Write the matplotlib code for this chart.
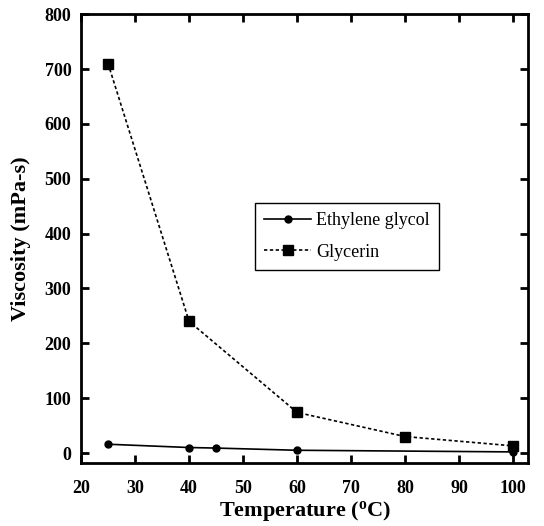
import numpy as np
import matplotlib.pyplot as plt

plt.rcParams['font.family'] = ['Liberation Serif', 'DejaVu Serif']

temp_eg = [25, 40, 45, 60, 100]
visc_eg = [16, 10, 9, 5, 2]
temp_gl = [25, 40, 60, 80, 100]
visc_gl = [710, 240, 74, 30, 13]

fig = plt.figure(figsize=(5.44, 5.26), dpi=100)
ax = fig.add_axes([0.149, 0.120, 0.822, 0.853])

ax.plot(temp_eg, visc_eg, color='black', lw=1.2, marker='o', ms=5, label='Ethylene glycol')
ax.plot(temp_gl, visc_gl, color='black', lw=1.2, ls=(0, (2, 1.5)), marker='s', ms=6.5, label='Glycerin')

ax.set_xlim(20, 102.8)
ax.set_ylim(-18, 800)
ax.set_xticks(np.arange(20, 101, 10))
ax.set_yticks(np.arange(0, 801, 100))
ax.tick_params(direction='in', length=6, width=2, top=True, right=True, labelsize=13)
ax.tick_params(axis='x', pad=12)
ax.tick_params(axis='y', pad=7)
for lab in ax.get_xticklabels() + ax.get_yticklabels():
    lab.set_fontweight('bold')
for sp in ax.spines.values():
    sp.set_linewidth(2)

ax.set_xlabel('Temperature ($\\mathregular{^{o}}$C)', fontsize=16, fontweight='bold', labelpad=2)
ax.set_ylabel('Viscosity (mPa-s)', fontsize=16, fontweight='bold', labelpad=10)

leg = ax.legend(loc='upper left', bbox_to_anchor=(0.389, 0.579), fontsize=13,
                fancybox=False, edgecolor='black', framealpha=1, borderaxespad=0,
                handlelength=2.6, handletextpad=0.3, labelspacing=0.8, borderpad=0.5)
leg.get_frame().set_linewidth(1)

fig.savefig('out.png', dpi=100)
